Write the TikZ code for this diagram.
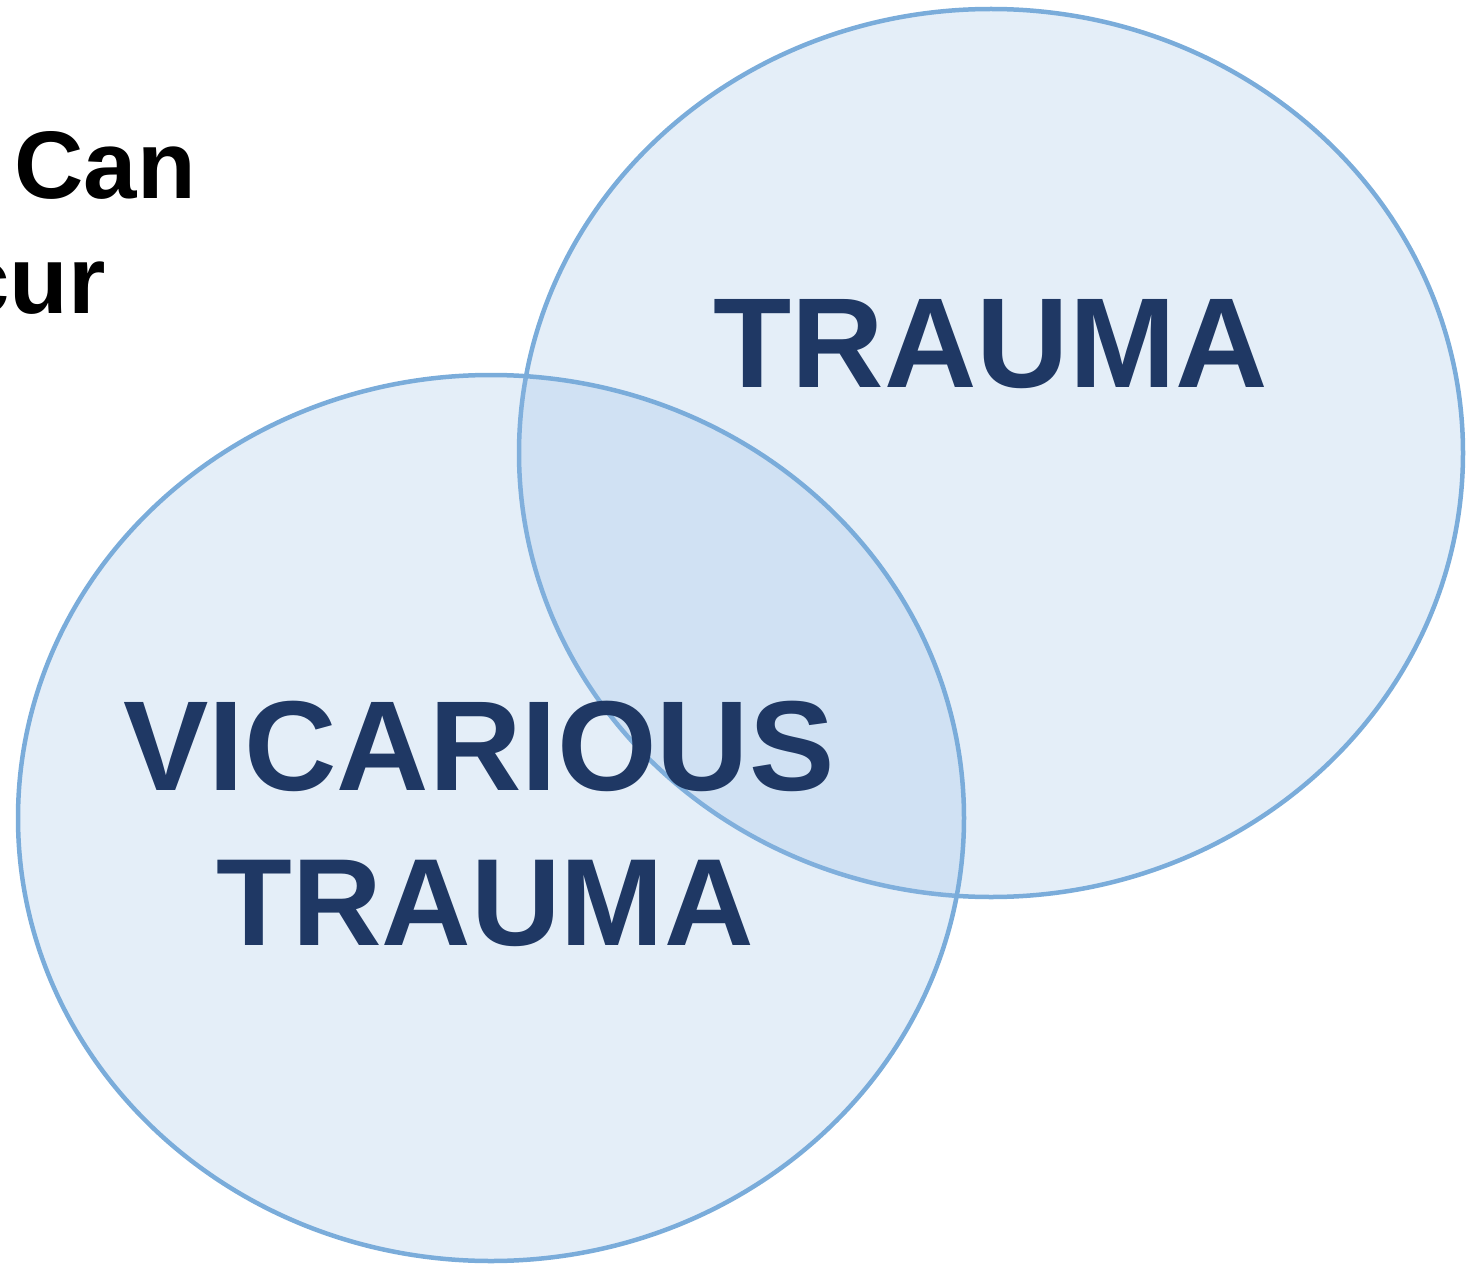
\documentclass[tikz,border=0pt]{standalone}
\usepackage{fontspec}
\setmainfont{Liberation Sans}
\definecolor{ringline}{RGB}{122,172,218}
\definecolor{ringfill}{RGB}{147,187,227}
\definecolor{navy}{RGB}{31,56,100}
\begin{document}
\begin{tikzpicture}[x=1pt,y=-1pt,
  ring/.style={draw=ringline,line width=4.5pt,fill=ringfill,fill opacity=0.25},
  biglabel/.style={font=\bfseries\fontsize{128}{150}\selectfont,text=navy,inner sep=0pt,anchor=base},
  sidetext/.style={font=\bfseries\fontsize{96}{113}\selectfont,text=black,inner sep=0pt,anchor=base east}]
  \useasboundingbox (0,0) rectangle (1473,1268);
  % heading, partly outside the frame
  \node[sidetext] (can) at (196,199) {Can};
  \node[sidetext] (cur) at (106,313) {cur};
  % the two overlapping circles
  \path[ring] (991,453) ellipse [x radius=472, y radius=444];
  \path[ring] (491,818) ellipse [x radius=473, y radius=443];
  % labels
  \node[biglabel] (trauma) at (991,387) {TRAUMA};
  \node[biglabel] (vic) at (479,790) {VICARIOUS};
  \node[biglabel,font=\bfseries\fontsize{124}{150}\selectfont] (vtrauma) at (485,945) {TRAUMA};
\end{tikzpicture}
\end{document}
